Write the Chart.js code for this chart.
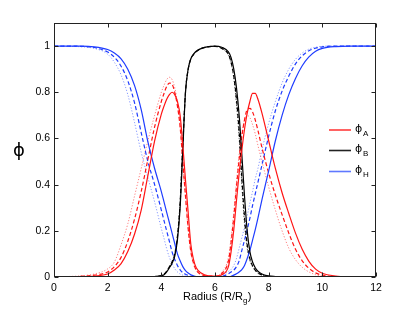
<!DOCTYPE html>
<html><head><meta charset="utf-8">
<script src="https://cdn.jsdelivr.net/npm/chart.js@4"></script>
<style>html,body{margin:0;padding:0;background:#fff}canvas{display:block}</style>
</head><body>
<canvas id="c" width="415" height="312"></canvas>
<script>
// Radius (R/Rg) sample positions
const radius = [0,0.5,1,1.5,2,2.25,2.5,2.75,3,3.25,3.5,3.75,4,4.1,4.2,4.3,4.4,4.5,4.6,4.7,4.8,4.9,5,5.1,5.2,5.3,5.5,5.75,6,6.25,6.5,6.6,6.7,6.8,6.9,7,7.1,7.2,7.3,7.4,7.5,7.6,7.75,8,8.25,8.5,8.75,9,9.25,9.5,9.75,10,10.5,11,12];

// phi_A (red)
const phiA_solid  = [0,0,0.001,0.004,0.013,0.03,0.058,0.11,0.185,0.29,0.44,0.59,0.705,0.74,0.77,0.79,0.80,0.79,0.76,0.70,0.57,0.42,0.28,0.14,0.075,0.04,0.016,0.005,0.003,0.01,0.045,0.11,0.205,0.33,0.45,0.55,0.64,0.71,0.76,0.795,0.795,0.77,0.71,0.59,0.47,0.365,0.275,0.19,0.12,0.068,0.034,0.016,0.004,0.001,0];
const phiA_dashed = [0,0.001,0.003,0.008,0.022,0.045,0.085,0.155,0.25,0.37,0.51,0.65,0.76,0.795,0.825,0.84,0.835,0.80,0.74,0.65,0.50,0.35,0.21,0.11,0.06,0.03,0.01,0.004,0.004,0.015,0.07,0.15,0.26,0.39,0.51,0.61,0.68,0.725,0.73,0.715,0.68,0.635,0.56,0.45,0.355,0.27,0.19,0.12,0.07,0.038,0.018,0.008,0.002,0,0];
const phiA_dotted = [0.001,0.002,0.005,0.013,0.035,0.065,0.14,0.23,0.35,0.47,0.59,0.70,0.80,0.83,0.855,0.865,0.855,0.82,0.755,0.655,0.50,0.35,0.21,0.105,0.055,0.028,0.01,0.005,0.005,0.02,0.085,0.17,0.28,0.41,0.53,0.62,0.68,0.70,0.69,0.66,0.62,0.57,0.50,0.39,0.29,0.20,0.125,0.075,0.042,0.022,0.01,0.004,0.001,0,0];

// phi_B (black)
const phiB_solid  = [0,0,0,0,0,0,0,0,0,0,0.001,0.002,0.005,0.01,0.022,0.04,0.06,0.09,0.16,0.30,0.55,0.80,0.90,0.945,0.965,0.978,0.99,0.998,1.0,0.995,0.975,0.95,0.90,0.82,0.70,0.53,0.35,0.20,0.11,0.065,0.04,0.025,0.013,0.005,0.002,0,0,0,0,0,0,0,0,0,0];
const phiB_dashed = [0,0,0,0,0,0,0,0,0,0,0.001,0.002,0.006,0.012,0.025,0.044,0.065,0.10,0.175,0.32,0.57,0.80,0.90,0.945,0.963,0.976,0.99,0.997,0.999,0.99,0.965,0.93,0.87,0.77,0.63,0.43,0.26,0.14,0.08,0.048,0.03,0.018,0.009,0.003,0.001,0,0,0,0,0,0,0,0,0,0];
const phiB_dotted = [0,0,0,0,0,0,0,0,0,0,0.001,0.002,0.006,0.012,0.025,0.045,0.068,0.105,0.18,0.33,0.58,0.80,0.90,0.945,0.963,0.976,0.99,0.997,0.999,0.99,0.96,0.925,0.86,0.75,0.60,0.40,0.23,0.125,0.072,0.044,0.027,0.016,0.008,0.003,0.001,0,0,0,0,0,0,0,0,0,0];

// phi_H (blue)
const phiH_solid  = [1,1,1,0.997,0.985,0.97,0.945,0.90,0.83,0.725,0.585,0.47,0.37,0.325,0.28,0.235,0.19,0.145,0.10,0.07,0.045,0.028,0.017,0.01,0.005,0.002,0,0,0,0,0,0.003,0.008,0.014,0.022,0.032,0.05,0.08,0.115,0.16,0.205,0.255,0.335,0.46,0.59,0.70,0.79,0.86,0.915,0.953,0.978,0.99,0.998,1,1];
const phiH_dashed = [1,1,0.999,0.994,0.974,0.952,0.913,0.85,0.755,0.625,0.50,0.40,0.29,0.244,0.199,0.154,0.109,0.076,0.05,0.031,0.019,0.012,0.007,0.003,0.001,0,0,0,0,0.002,0.014,0.022,0.03,0.045,0.07,0.115,0.16,0.205,0.255,0.31,0.36,0.41,0.485,0.61,0.72,0.805,0.87,0.923,0.958,0.98,0.991,0.997,1,1,1];
const phiH_dotted = [1,0.999,0.997,0.99,0.965,0.93,0.875,0.79,0.67,0.54,0.43,0.325,0.21,0.167,0.122,0.085,0.058,0.036,0.022,0.013,0.008,0.004,0.002,0,0,0,0,0,0,0.006,0.024,0.033,0.05,0.08,0.124,0.17,0.215,0.265,0.32,0.37,0.425,0.47,0.55,0.665,0.76,0.84,0.90,0.943,0.97,0.987,0.995,0.999,1,1,1];

const xTicks = [0,2,4,6,8,10,12];
const yTicks = [0,0.2,0.4,0.6,0.8,1];
const legendSubs = ['A','B','H'];
const xTitleMain = 'Radius (R/R';
const xTitleSub = 'g';
const xTitleEnd = ')';
const yTitle = '\u03D5';

const RED = 'rgb(255,20,20)', BLACK = '#000', BLUE = 'rgb(30,60,255)';
const RED_L = 'rgba(255,60,60,0.65)', BLACK_L = 'rgba(0,0,0,0.7)', BLUE_L = 'rgba(60,90,255,0.6)';

function pts(ys){ return radius.map((x,i)=>({x:x,y:ys[i]})); }
function ds(label, ys, color, style){
  const o = {label:label, data:pts(ys), borderColor:color, backgroundColor:color, showLine:true,
    pointRadius:0, borderWidth:1.2, cubicInterpolationMode:'monotone', fill:false};
  if(style==='dash'){ o.borderDash=[4,2.5]; }
  if(style==='dot'){ o.borderDash=[1.2,1.8]; o.borderWidth=1; }
  return o;
}

const decor = {
  id:'decor',
  afterDraw(chart){
    const ctx = chart.ctx, a = chart.chartArea;
    const xs = chart.scales.x, ys = chart.scales.y;
    ctx.save();
    ctx.strokeStyle = '#222'; ctx.lineWidth = 1;
    const L = Math.round(a.left)+0.5, R = Math.round(a.right)-0.5, T = Math.round(a.top)+0.5, B = Math.round(a.bottom)-0.5;
    ctx.strokeRect(L, T, R-L, B-T);
    ctx.beginPath();
    xTicks.forEach(v=>{ const p = Math.round(xs.getPixelForValue(v))+0.5;
      ctx.moveTo(p,B); ctx.lineTo(p,B-4); ctx.moveTo(p,T); ctx.lineTo(p,T+4); });
    yTicks.forEach(v=>{ const p = Math.round(ys.getPixelForValue(v))+0.5;
      ctx.moveTo(L,p); ctx.lineTo(L+4,p); ctx.moveTo(R,p); ctx.lineTo(R-4,p); });
    ctx.stroke();

    // x title with subscript
    ctx.fillStyle = '#000';
    ctx.textBaseline = 'alphabetic';
    ctx.font = '11px "Liberation Sans", Arial, sans-serif';
    const w1 = ctx.measureText(xTitleMain).width;
    const w3 = ctx.measureText(xTitleEnd).width;
    ctx.font = '8px "Liberation Sans", Arial, sans-serif';
    const w2 = ctx.measureText(xTitleSub).width;
    let x0 = 217 - (w1+w2+w3)/2;
    ctx.font = '11px "Liberation Sans", Arial, sans-serif';
    ctx.fillText(xTitleMain, x0, 300);
    ctx.font = '8px "Liberation Sans", Arial, sans-serif';
    ctx.fillText(xTitleSub, x0+w1, 303);
    ctx.font = '11px "Liberation Sans", Arial, sans-serif';
    ctx.fillText(xTitleEnd, x0+w1+w2+0.5, 300);

    // y title (upright phi)
    ctx.font = '18px "DejaVu Sans", sans-serif';
    ctx.textAlign = 'center'; ctx.textBaseline = 'middle';
    ctx.fillText(yTitle, 19, 151);

    // legend
    const cols = ['rgb(255,60,60)','#222','rgb(95,120,255)'];
    const ly = [130, 150.5, 171.5];
    ctx.textAlign = 'left'; ctx.textBaseline = 'alphabetic';
    legendSubs.forEach((s,i)=>{
      ctx.strokeStyle = cols[i]; ctx.lineWidth = 1.6;
      ctx.beginPath(); ctx.moveTo(329, ly[i]); ctx.lineTo(351, ly[i]); ctx.stroke();
      ctx.fillStyle = '#000';
      ctx.font = '11px "DejaVu Sans", sans-serif';
      ctx.fillText(yTitle, 355, ly[i]+1.5);
      ctx.font = '8px "Liberation Sans", Arial, sans-serif';
      ctx.fillText(s, 363, ly[i]+5.5);
    });
    ctx.restore();
  }
};

new Chart(document.getElementById('c'), {
  type:'scatter',
  data:{ datasets:[
    ds('phiA', phiA_solid, RED, 'solid'),
    ds('phiB', phiB_solid, BLACK, 'solid'),
    ds('phiH', phiH_solid, BLUE, 'solid'),
    ds('phiA dashed', phiA_dashed, RED, 'dash'),
    ds('phiB dashed', phiB_dashed, BLACK, 'dash'),
    ds('phiH dashed', phiH_dashed, BLUE, 'dash'),
    ds('phiA dotted', phiA_dotted, RED_L, 'dot'),
    ds('phiB dotted', phiB_dotted, BLACK_L, 'dot'),
    ds('phiH dotted', phiH_dotted, BLUE_L, 'dot')
  ]},
  options:{
    responsive:false, animation:false, devicePixelRatio:1,
    layout:{padding:{left:0,right:39,top:23,bottom:0}},
    plugins:{legend:{display:false}, tooltip:{enabled:false}},
    scales:{
      x:{type:'linear', min:0, max:12,
         afterBuildTicks:s=>{ s.ticks = xTicks.map(v=>({value:v})); },
         afterFit:s=>{ s.height = 35; },
         grid:{display:false, drawTicks:false}, border:{display:false},
         ticks:{color:'#000', padding:5, maxRotation:0, autoSkip:false,
                font:{family:'"Liberation Sans", Arial, sans-serif', size:10.5},
                callback:v=>String(v)}},
      y:{type:'linear', min:0, max:1.1,
         afterBuildTicks:s=>{ s.ticks = yTicks.map(v=>({value:v})); },
         afterFit:s=>{ s.width = 54; },
         grid:{display:false, drawTicks:false}, border:{display:false},
         ticks:{color:'#000', padding:4, autoSkip:false,
                font:{family:'"Liberation Sans", Arial, sans-serif', size:10.5},
                callback:v=>String(Math.round(v*10)/10)}}
    }
  },
  plugins:[decor]
});
</script>
</body></html>
